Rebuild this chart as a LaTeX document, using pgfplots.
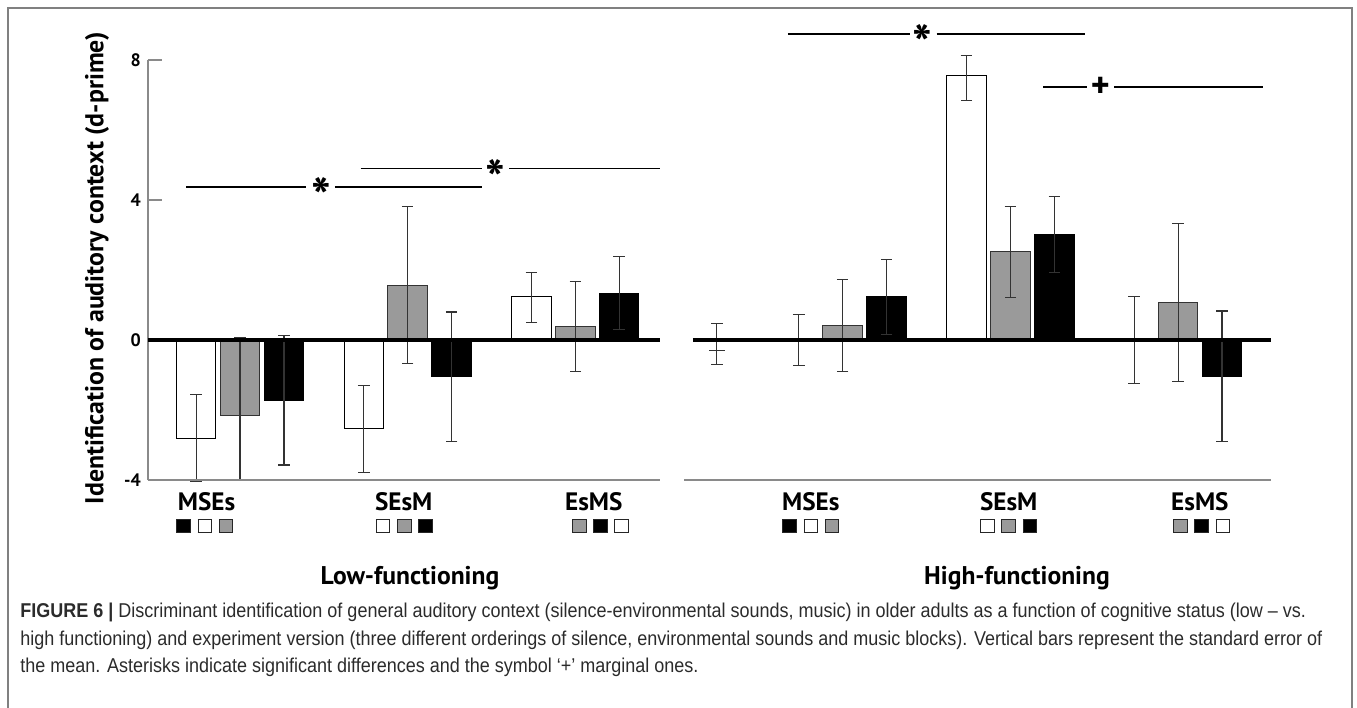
\documentclass[border=0pt]{standalone}
\usepackage{pgfplots}
\usepackage{pgfplotstable}
\pgfplotsset{compat=1.18}
\usepackage{fontspec}
\setmainfont{PT Sans}
\newfontfamily\capfont[FakeStretch=0.9]{Liberation Sans}
\definecolor{bargray}{HTML}{9A9A9A}
\definecolor{errcol}{HTML}{333333}
\definecolor{framecol}{HTML}{808080}
\definecolor{axcol}{HTML}{8A8A8A}
\definecolor{captext}{HTML}{2B2B2B}

% ---------- Low-functioning ----------
\pgfplotstableread{
x      y      ep    em
-0.262 -2.80  1.25  1.25
0.738  -2.54  1.25  1.25
1.738   1.23  0.70  0.72
}\lowwhite
\pgfplotstableread{
x      y      ep    em
0      -2.17  2.24  1.83
1       1.57  2.24  2.24
2       0.38  1.28  1.28
}\lowgray
\pgfplotstableread{
x      y      ep    em
0.262  -1.72  1.85  1.85
1.262  -1.05  1.85  1.85
2.262   1.34  1.05  1.05
}\lowblack
% ---------- High-functioning ----------
\pgfplotstableread{
x      y      ep    em
-0.262  0.00  0.72  0.72
0.738   7.56  0.57  0.72
1.738   0.00  1.25  1.25
}\highwhite
\pgfplotstableread{
x      y      ep    em
0       0.41  1.31  1.30
1       2.52  1.30  1.31
2       1.07  2.26  2.25
}\highgray
\pgfplotstableread{
x      y      ep    em
0.262   1.23  1.08  1.08
1.262   3.01  1.09  1.09
2.262  -1.03  1.86  1.87
}\highblack
\pgfplotstableread{
x      y      ep    em
-0.75  -0.30  0.78  0.41
}\highextra

\pgfplotsset{
  errstyle/.style={
    error bars/y dir=both, error bars/y explicit,
    error bars/error mark=-,
    error bars/error bar style={errcol, line width=0.55pt, solid},
    error bars/error mark options={rotate=90, errcol, line width=0.55pt, mark size=2.9pt, solid}},
  mybar/.style={ybar, bar width=0.235, bar shift=0pt, line width=0.5pt, errstyle},
  panel/.style={scale only axis, height=210pt, ymin=-4, ymax=8, clip=false},
}
\newcommand\sqr[1]{{\setlength\fboxsep{0pt}\setlength\fboxrule{0.45pt}\fcolorbox{black!85}{#1}{\rule{0pt}{6.3pt}\rule{6.3pt}{0pt}}}}
\newcommand\sqrow[3]{\sqr{#1}\hspace{3.4pt}\sqr{#2}\hspace{3.4pt}\sqr{#3}}
\newcommand\catfont{\bfseries\fontsize{12.6}{14}\selectfont}
\newcommand\starfont{\bfseries\fontsize{26}{26}\selectfont}

\begin{document}
\begin{tikzpicture}[x=0.5pt, y=-0.5pt]
\path[use as bounding box] (0,0) rectangle (1357,708);
\draw[framecol, line width=1pt] (8,708) -- (8,8) -- (1352,8) -- (1352,708);

% ================= Left panel =================
\begin{axis}[panel, at={(74pt,-240pt)}, anchor=south west, width=256pt,
  xmin=-0.549, xmax=2.505,
  axis x line=none, axis y line*=left,
  y axis line style={-, draw=axcol, line width=0.7pt},
  ytick={-4,0,4,8}, yticklabels={-4,0,4,8},
  tick align=inside, major tick length=7pt,
  ytick style={draw=axcol, line width=0.7pt},
  yticklabel style={font=\bfseries\fontsize{9}{10}\selectfont, text=black},
]
\addplot[fill=white, draw=black, mybar] table[x=x, y=y, y error plus=ep, y error minus=em] {\lowwhite};
\addplot[fill=bargray, draw=black!80, mybar] table[x=x, y=y, y error plus=ep, y error minus=em] {\lowgray};
\addplot[fill=black, draw=black, mybar] table[x=x, y=y, y error plus=ep, y error minus=em] {\lowblack};
\draw[axcol, line width=0.7pt] (axis cs:-0.549,-4) -- (axis cs:2.505,-4);
\draw[black, line width=1.8pt] (axis cs:-0.549,0) -- (axis cs:2.505,0);
% significance
\draw[black, line width=0.9pt] (axis cs:-0.321,4.38) -- (axis cs:0.393,4.38);
\draw[black, line width=0.9pt] (axis cs:0.565,4.38) -- (axis cs:1.446,4.38);
\node[font=\starfont, yshift=-5pt] at (axis cs:0.482,4.38) {*};
\draw[black, line width=0.9pt] (axis cs:0.720,4.90) -- (axis cs:1.446,4.90);
\draw[black, line width=0.9pt] (axis cs:1.607,4.90) -- (axis cs:2.505,4.90);
\node[font=\starfont, yshift=-5pt] at (axis cs:1.524,4.90) {*};
% categories
\node[font=\catfont] at (axis cs:-0.20,-4.63) {MSEs};
\node[font=\catfont] at (axis cs:0.976,-4.63) {SEsM};
\node[font=\catfont] at (axis cs:2.11,-4.63) {EsMS};
\node[inner sep=0pt] at (axis cs:-0.21,-5.31) {\sqrow{black}{white}{bargray}};
\node[inner sep=0pt] at (axis cs:0.98,-5.31) {\sqrow{white}{bargray}{black}};
\node[inner sep=0pt] at (axis cs:2.15,-5.31) {\sqrow{bargray}{black}{white}};
\end{axis}

% ================= Right panel =================
\begin{axis}[panel, at={(342pt,-240pt)}, anchor=south west, width=293.5pt,
  xmin=-0.946, xmax=2.554, hide axis]
\addplot[fill=white, draw=black, mybar] table[x=x, y=y, y error plus=ep, y error minus=em] {\highwhite};
\addplot[fill=bargray, draw=black!80, mybar] table[x=x, y=y, y error plus=ep, y error minus=em] {\highgray};
\addplot[fill=black, draw=black, mybar] table[x=x, y=y, y error plus=ep, y error minus=em] {\highblack};
\addplot[draw=none, mark=none, errstyle]
  table[x=x, y=y, y error plus=ep, y error minus=em] {\highextra};
\addplot[only marks, mark=-, mark size=4pt, mark options={errcol, line width=0.9pt}] table[x=x, y=y] {\highextra};
\draw[axcol, line width=0.7pt] (axis cs:-0.946,-4) -- (axis cs:2.554,-4);
\draw[black, line width=1.8pt] (axis cs:-0.893,0) -- (axis cs:2.554,0);
% significance
\draw[black, line width=0.9pt] (axis cs:-0.327,8.75) -- (axis cs:0.399,8.75);
\draw[black, line width=0.9pt] (axis cs:0.560,8.75) -- (axis cs:1.446,8.75);
\node[font=\starfont, yshift=-5pt] at (axis cs:0.476,8.75) {*};
\draw[black, line width=0.9pt] (axis cs:1.196,7.22) -- (axis cs:1.458,7.22);
\draw[black, line width=0.9pt] (axis cs:1.619,7.22) -- (axis cs:2.506,7.22);
\node[font=\bfseries\fontsize{18}{18}\selectfont, inner sep=0pt] at (axis cs:1.536,7.22) {+};
% categories
\node[font=\catfont] at (axis cs:-0.19,-4.63) {MSEs};
\node[font=\catfont] at (axis cs:0.99,-4.63) {SEsM};
\node[font=\catfont] at (axis cs:2.13,-4.63) {EsMS};
\node[inner sep=0pt] at (axis cs:-0.19,-5.31) {\sqrow{black}{white}{bargray}};
\node[inner sep=0pt] at (axis cs:0.99,-5.31) {\sqrow{white}{bargray}{black}};
\node[inner sep=0pt] at (axis cs:2.14,-5.31) {\sqrow{bargray}{black}{white}};
\end{axis}

% axis title and panel titles
\node[rotate=90, font=\bfseries\fontsize{12.9}{14}\selectfont] at (97,268) {Identification of auditory context (d-prime)};
\node[font=\bfseries\fontsize{12.8}{14}\selectfont] at (410,578) {Low-functioning};
\node[font=\bfseries\fontsize{12.8}{14}\selectfont] at (1017,578) {High-functioning};

% caption
\begin{scope}[every node/.style={anchor=base west, inner sep=0pt, text=captext, font=\capfont\fontsize{10}{12}\selectfont}]
\node at (20,617) {\textbf{FIGURE 6 |} Discriminant identification of general auditory context (silence-environmental sounds, music) in older adults as a function of cognitive status (low – vs.};
\node at (20,645) {high functioning) and experiment version (three different orderings of silence, environmental sounds and music blocks). Vertical bars represent the standard error of};
\node at (20,672) {the mean. Asterisks indicate significant differences and the symbol ‘+’ marginal ones.};
\end{scope}
\end{tikzpicture}
\end{document}
